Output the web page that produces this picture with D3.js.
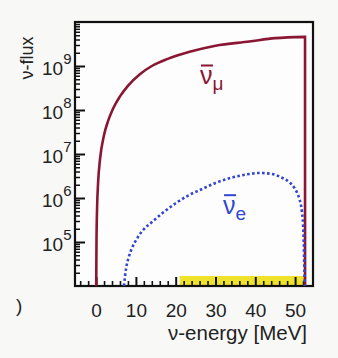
<!DOCTYPE html>
<html>
<head>
<meta charset="utf-8">
<script src="https://cdn.jsdelivr.net/npm/d3@7"></script>
<style>
  body { margin: 0; background: #f8f8f7; }
  text { font-family: "Liberation Sans", Arial, sans-serif; fill: #222; }
</style>
</head>
<body>
<div id="vis"></div>
<script>
// anti-nu_mu spectrum
var muEnergy = [0.03, 0.1, 0.25, 0.5, 1, 2, 3, 4.25, 6, 8, 11, 14, 18, 23.5, 30, 38.5, 45, 52.5];
var muFlux = [1e4, 1e5, 6e5, 2.2e6, 7.8e6, 2.7e7, 5.6e7, 1.07e8, 2.04e8, 3.55e8, 6.5e8, 1e9, 1.45e9, 2.1e9, 2.9e9, 3.6e9, 4.3e9, 4.6e9];
var muCutoff = 52.5;

// anti-nu_e spectrum
var eEnergy = [7, 7.5, 8.2, 9, 10.2, 12, 14.25, 17, 20, 23, 26.5, 30, 34, 38, 41, 44, 46.5, 48.5, 50, 51, 51.7, 52.1, 52.4];
var eFlux = [1e4, 2.4e4, 4.5e4, 7.2e4, 1.17e5, 1.95e5, 2.95e5, 4.8e5, 7.6e5, 1.12e6, 1.58e6, 2.2e6, 2.9e6, 3.45e6, 3.7e6, 3.55e6, 2.95e6, 2.3e6, 1.6e6, 1e6, 5e5, 1.6e5, 1e4];

// highlighted energy window
var band = [21, 52.8];

var xTicks = [0, 10, 20, 30, 40, 50];
var yTicks = [1e5, 1e6, 1e7, 1e8, 1e9];

var width = 338, height = 358,
    margin = { top: 22, right: 25, bottom: 72, left: 75 };

var svg = d3.select("#vis").append("svg")
    .attr("width", width)
    .attr("height", height);

var x = d3.scaleLinear().domain([-5.3, 54.5]).range([margin.left, width - margin.right]);
var y = d3.scaleLog().domain([1e4, 1e10]).range([height - margin.bottom, margin.top]);

var bottom = y.range()[0], left = x.range()[0];

svg.append("rect")
    .attr("x", left).attr("y", y.range()[1])
    .attr("width", x.range()[1] - left)
    .attr("height", bottom - y.range()[1])
    .attr("fill", "#fdfdfd");

// yellow band along the bottom
svg.append("rect")
    .attr("x", x(band[0]))
    .attr("width", x(band[1]) - x(band[0]))
    .attr("y", bottom - 10)
    .attr("height", 9)
    .attr("fill", "#efe22a");

// frame
svg.append("rect")
    .attr("x", left).attr("y", y.range()[1])
    .attr("width", x.range()[1] - left)
    .attr("height", bottom - y.range()[1])
    .attr("fill", "none")
    .attr("stroke", "#111").attr("stroke-width", 2.2);

// minor ticks
var minorX = d3.range(-4, 54, 2).filter(function (d) { return d % 10 !== 0; });
var minorY = [];
d3.range(4, 10).forEach(function (e) {
    for (var k = 2; k <= 9; k++) minorY.push(k * Math.pow(10, e));
});

var tickColor = "#111";

function styleTicks(g, w) {
    g.select(".domain").remove();
    g.selectAll(".tick line")
        .attr("stroke", tickColor)
        .attr("stroke-width", w);
}

svg.append("g")
    .attr("transform", "translate(0," + bottom + ")")
    .call(d3.axisBottom(x).tickValues(minorX).tickSize(-5).tickFormat(""))
    .call(styleTicks, 1.6);

var gx = svg.append("g")
    .attr("transform", "translate(0," + bottom + ")")
    .call(d3.axisBottom(x).tickValues(xTicks).tickSize(-9).tickPadding(18))
    .call(styleTicks, 2);
gx.selectAll("text")
    .style("font-size", "19px")
    .style("fill", "#222");

svg.append("g")
    .attr("transform", "translate(" + left + ",0)")
    .call(d3.axisLeft(y).tickValues(minorY).tickSize(-5).tickFormat(""))
    .call(styleTicks, 1.5);

svg.append("g")
    .attr("transform", "translate(" + left + ",0)")
    .call(d3.axisLeft(y).tickValues(yTicks).tickSize(-10).tickFormat(""))
    .call(styleTicks, 2);

var ly = svg.selectAll(".ylab").data(yTicks).enter().append("text")
    .attr("class", "ylab")
    .attr("x", left - 33)
    .attr("y", function (d) { return y(d) + 9; })
    .style("font-size", "19px");
ly.append("tspan").text("10");
ly.append("tspan")
    .attr("dy", -11)
    .style("font-size", "15px")
    .text(function (d) { return Math.round(Math.log10(d)); });

// curves
var line = d3.line()
    .x(function (d) { return x(d[0]); })
    .y(function (d) { return y(d[1]); })
    .curve(d3.curveMonotoneX);

svg.append("path")
    .attr("d", line(d3.zip(muEnergy, muFlux)) + "L" + x(muCutoff) + "," + y(1e4))
    .attr("fill", "none")
    .attr("stroke", "#8a1634")
    .attr("stroke-width", 2.6);

svg.append("path")
    .attr("d", line(d3.zip(eEnergy, eFlux)))
    .attr("fill", "none")
    .attr("stroke", "#3346cf")
    .attr("stroke-width", 2.6)
    .attr("stroke-dasharray", "2.6,2.4");

// curve labels
function nuLabel(px, py, sub, color) {
    var g = svg.append("g").attr("transform", "translate(" + px + "," + py + ")");
    g.append("line")
        .attr("x1", 1).attr("x2", 13).attr("y1", -18.5).attr("y2", -18.5)
        .attr("stroke", color).attr("stroke-width", 2);
    var t = g.append("text").style("fill", color).style("font-size", "25px");
    t.append("tspan").text("ν");
    t.append("tspan").attr("dy", 6).style("font-size", "19px").text(sub);
}
nuLabel(x(26.1), y(3.9e8), "μ", "#8a1634");
nuLabel(x(31.9), y(4.4e5), "e", "#3346cf");

// axis titles
svg.append("text")
    .attr("transform", "translate(33,58) rotate(-90)")
    .attr("text-anchor", "middle")
    .style("font-size", "18px")
    .text("ν-flux");

svg.append("text")
    .attr("x", 307)
    .attr("y", 340)
    .attr("text-anchor", "end")
    .style("font-size", "20.5px")
    .text("ν-energy [MeV]");

svg.append("text")
    .attr("x", 16).attr("y", bottom + 26)
    .style("font-size", "19px")
    .text(")");
</script>
</body>
</html>
